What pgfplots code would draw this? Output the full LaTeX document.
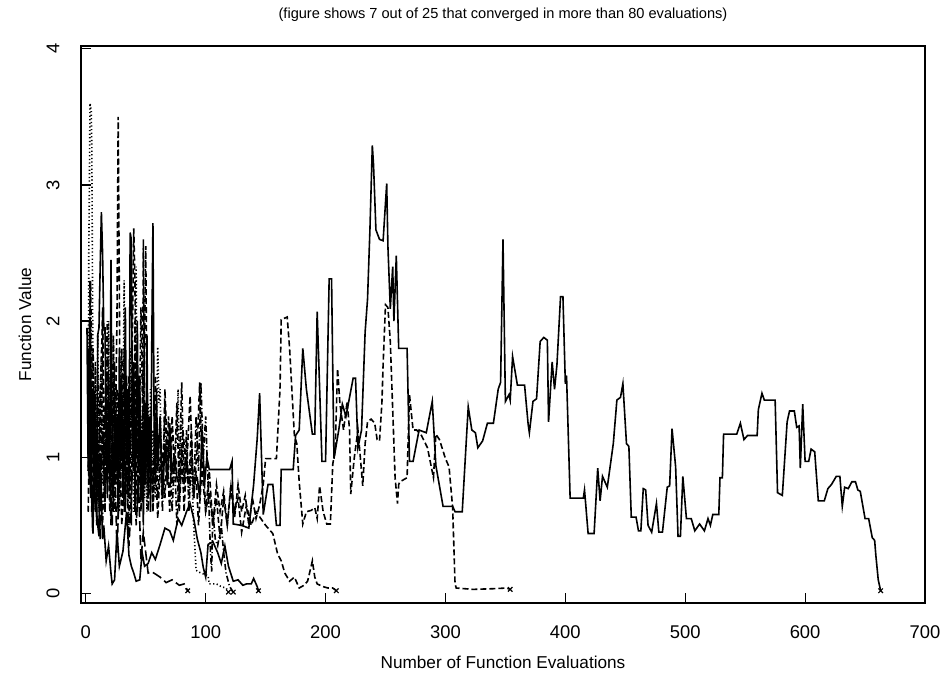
\documentclass[border=0pt]{standalone}
\usepackage{fontspec}
\setmainfont{Liberation Sans}
\usepackage{pgfplots}
\pgfplotsset{compat=1.18}
\begin{document}
\begin{tikzpicture}
\useasboundingbox (-40.5pt,-38pt) rectangle (433.5pt,301.5pt);
\begin{axis}[
  at={(0pt,0pt)}, anchor=south west,
  scale only axis, width=422pt, height=278.5pt,
  xmin=-4, xmax=700, ymin=-0.07, ymax=4.02,
  axis line style={line width=0.7pt},
  xtick={0,100,...,700}, ytick={0,1,2,3,4},
  xtick pos=bottom, ytick pos=left,
  tick align=inside, major tick length=5pt,
  tick style={line width=0.6pt, black},
  /pgf/number format/assume math mode=true,
  ticklabel style={font=\fontsize{9.2}{11}\selectfont},
  xticklabel style={anchor=center, yshift=-14.5pt},
  yticklabel={\rotatebox{90}{\pgfmathprintnumber{\tick}}},
  yticklabel style={anchor=center, xshift=-14pt},
  xlabel={Number of Function Evaluations},
  ylabel={Function Value},
  label style={font=\fontsize{8.6}{10}\selectfont},
  xlabel style={at={(axis description cs:0.5,-0.1059)}, anchor=center},
  ylabel style={at={(axis description cs:-0.0664,0.5)}, anchor=center},
  title={(figure shows 7 out of 25 that converged in more than 80 evaluations)},
  title style={at={(axis description cs:0.5,1.0341)}, anchor=center, font=\fontsize{7.3}{8.5}\selectfont},
  every axis plot/.append style={line width=0.8pt, black},
]
% Series A: solid, ends 663
\addplot[solid] coordinates {
(1,1.95)(2,0.9)(3,1.6)(4,2.0)(4.5,1.0)(5,0.95)(6,1.5)(7,0.8)(8,1.2)(9,0.6)(10,1.9)(11,1.95)(12,2.4)(13,2.8)(14,2.5)(15,1.95)(16,1.95)(17,1.2)(18,0.7)(19,1.4)(20,0.9)(21,2.45)(22,1.1)(23,0.6)(24,1.5)(25,0.9)(26,1.3)(27,0.55)(28,1.8)(29,1.0)(30,1.6)(31,0.7)(32,1.2)(33,2.1)(34,1.0)(35,1.5)(36,0.8)(37,2.65)(38,2.6)(39,1.1)(40,1.7)(41,0.6)(42,1.3)(43,2.0)(44,0.9)(45,1.6)(46,0.7)(47,1.2)(48,0.5)(49,1.4)(50,0.8)(51,1.9)(52,0.9)(53,1.3)(54,0.6)(55,1.8)(56,2.72)(57,1.2)(58,0.8)(59,1.5)(60,0.9)(62,1.3)(64,0.7)(66,1.1)(68,0.8)(70,1.25)(72,0.9)(74,1.0)(76,0.85)(93,0.85)(95,0.7)(97,1.2)(99,0.8)(101,1.0)(103,0.91)(120,0.91)(122,0.97)(123,0.51)(130,0.5)(136,0.48)(140,0.8)(143,1.14)(145,1.47)(148,0.58)(152,0.8)(156,0.8)(159,0.5)(162,0.5)(163,0.91)(173,0.91)(175,1.16)(178,1.2)(181,1.8)(184,1.5)(189,1.17)(191,1.17)(193,2.07)(197,0.97)(200,0.97)(203,2.31)(205,2.31)(207,0.99)(211,1.2)(214,1.39)(217,1.3)(223,1.58)(225,1.58)(227,1.07)(230,1.2)(233,1.92)(235,2.16)(237,2.67)(239,3.29)(240,3.15)(242,2.67)(245,2.6)(248,2.59)(251,3.01)(252,2.55)(254,2.09)(256,2.4)(257,2.0)(259,2.48)(261,1.80)(268,1.80)(270,0.97)(273,0.97)(278,1.2)(284,1.18)(289,1.41)(292,0.94)(298,0.64)(306,0.64)(308,0.6)(314,0.6)(319,1.37)(322,1.2)(325,1.18)(327,1.07)(331,1.12)(335,1.25)(340,1.25)(344,1.5)(346,1.55)(348,2.6)(350,1.41)(353,1.46)(354,1.42)(356,1.74)(360,1.53)(366,1.53)(369,1.24)(370,1.18)(373,1.41)(376,1.43)(379,1.85)(382,1.88)(385,1.86)(386,1.26)(389,1.7)(391,1.5)(393,1.68)(396,2.18)(398,2.18)(400,1.54)(401,1.6)(404,0.70)(415,0.70)(416,0.76)(419,0.44)(424,0.44)(427,0.92)(429,0.68)(431,0.86)(435,0.78)(440,1.1)(443,1.42)(446,1.44)(448,1.54)(451,1.1)(453,1.08)(455,0.56)(459,0.56)(461,0.46)(463,0.46)(465,0.77)(467,0.76)(469,0.5)(472,0.45)(476,0.66)(478,0.45)(481,0.45)(485,0.78)(487,0.79)(489,1.21)(492,0.93)(494,0.42)(496,0.42)(498,0.86)(501,0.55)(505,0.55)(508,0.46)(512,0.51)(516,0.46)(519,0.55)(521,0.5)(523,0.58)(528,0.58)(529,0.85)(531,0.85)(532,1.17)(543,1.17)(546,1.25)(549,1.13)(552,1.16)(560,1.16)(561,1.35)(564,1.47)(566,1.42)(575,1.42)(577,0.74)(581,0.72)(585,1.26)(587,1.34)(591,1.34)(593,1.22)(595,1.23)(596,0.92)(598,1.39)(600,0.97)(603,0.97)(605,1.06)(608,1.04)(611,0.68)(616,0.68)(619,0.77)(622,0.80)(626,0.86)(629,0.86)(631,0.64)(633,0.78)(636,0.77)(639,0.82)(642,0.82)(644,0.76)(646,0.75)(650,0.55)(653,0.55)(656,0.41)(658,0.39)(659,0.28)(661,0.1)(663,0.02)
};
% Series B: dashed, ends 354
\addplot[dash pattern=on 3pt off 1.5pt] coordinates {
(2,1.0)(2.5,1.8)(3,0.8)(3.5,2.3)(4,1.2)(5,0.6)(6,1.4)(7,0.9)(8,1.7)(9,0.5)(10,1.1)(11,0.7)(12,1.5)(13,0.9)(14,2.1)(15,1.0)(16,0.6)(17,1.3)(18,0.8)(19,1.6)(20,1.0)(21,0.5)(22,1.2)(23,1.9)(24,0.8)(25,1.4)(26,2.0)(27,3.5)(28,2.2)(29,0.7)(30,1.3)(31,0.9)(32,1.8)(33,0.6)(34,1.2)(35,0.8)(36,1.6)(37,1.0)(38,0.5)(39,1.4)(40,0.9)(41,2.0)(42,1.1)(43,0.6)(44,1.5)(45,0.8)(46,1.2)(47,0.7)(48,2.6)(49,1.3)(50,0.9)(51,1.5)(52,0.7)(54,1.2)(56,0.6)(58,1.6)(60,0.9)(62,1.3)(64,0.7)(66,1.5)(68,1.0)(70,0.6)(72,1.3)(74,0.9)(76,1.4)(78,0.7)(80,1.1)(82,0.6)(84,1.0)(86,0.8)(88,1.2)(90,0.7)(92,0.9)(94,0.5)(96,0.8)(98,1.0)(100,0.6)(103,0.9)(106,0.5)(109,0.7)(112,0.4)(115,0.7)(118,0.5)(121,0.78)(124,0.55)(127,0.8)(130,0.6)(133,0.72)(136,0.5)(139,0.7)(142,0.55)(145,0.65)(148,0.8)(150,0.99)(159,0.99)(162,1.5)(163,2.01)(168,2.03)(170,1.8)(174,1.16)(176,1.1)(178,0.82)(181,0.51)(184,0.6)(188,0.61)(191,0.63)(193,0.55)(195,0.79)(198,0.6)(201,0.51)(204,0.51)(206,0.95)(208,1.05)(210,1.65)(212,1.39)(215,1.2)(218,1.41)(220,1.2)(221,0.73)(224,1.0)(227,1.2)(229,1.0)(231,0.79)(233,1.1)(235,1.26)(238,1.28)(241,1.25)(243,1.13)(245,1.12)(247,1.4)(248,1.68)(250,2.12)(252,2.1)(254,1.85)(256,1.35)(258,0.85)(260,0.66)(261,0.8)(262,0.82)(268,0.85)(270,1.46)(273,1.2)(276,1.2)(280,1.16)(285,1.07)(290,0.85)(292,1.17)(295,1.13)(300,0.99)(303,0.93)(306,0.63)(307,0.35)(308,0.07)(309,0.04)(323,0.03)(340,0.035)(351,0.04)(354,0.03)
};
% Series C: dashed, ends 209
\addplot[dash pattern=on 3pt off 1.5pt] coordinates {
(2,0.6)(3,1.2)(4,0.8)(6,1.8)(8,1.1)(10,0.7)(12,1.5)(14,2.0)(16,0.9)(18,1.4)(20,0.6)(22,1.0)(24,1.7)(26,0.8)(28,1.2)(30,0.5)(32,0.9)(34,1.6)(36,0.7)(38,1.3)(40,2.68)(41,2.3)(42,1.0)(44,1.5)(46,0.6)(48,1.2)(50,2.55)(51,1.4)(52,0.8)(54,1.3)(56,0.6)(58,1.0)(60,0.55)(63,1.1)(66,0.7)(69,1.3)(72,0.8)(75,1.0)(78,0.6)(81,1.2)(84,0.9)(87,1.45)(90,0.7)(93,1.1)(95,1.55)(97,0.9)(100,0.6)(103,0.75)(106,0.5)(109,0.8)(112,0.6)(115,0.75)(118,0.5)(121,0.8)(124,0.6)(127,0.7)(130,0.45)(134,0.65)(138,0.5)(142,0.6)(146,0.55)(150,0.5)(152,0.48)(156,0.44)(160,0.29)(163,0.24)(166,0.15)(170,0.09)(174,0.12)(178,0.04)(182,0.06)(185,0.09)(188,0.2)(189,0.24)(191,0.12)(193,0.07)(198,0.05)(202,0.04)(206,0.04)(209,0.02)
};
% Series D: solid, ends 144
\addplot[solid] coordinates {
(3,2.0)(3.5,1.2)(4,0.7)(4.5,1.5)(5,0.9)(5.5,0.5)(6,0.44)(7,0.9)(8,1.3)(9,0.6)(10,0.5)(11,0.42)(12,1.0)(13,0.7)(14,0.4)(15,0.5)(17,0.24)(19,0.35)(21,0.15)(22,0.07)(24,0.1)(26,0.45)(28,0.2)(31,0.31)(34,0.6)(36,0.28)(38,0.2)(40,0.15)(42,0.09)(45,0.1)(47,0.3)(49,0.2)(52,0.22)(55,0.3)(58,0.25)(62,0.36)(66,0.48)(70,0.46)(73,0.39)(77,0.55)(80,0.5)(84,0.6)(87,0.66)(90,0.55)(93,0.4)(96,0.3)(98,0.19)(100,0.12)(102,0.36)(106,0.38)(110,0.3)(113,0.22)(116,0.35)(119,0.2)(123,0.09)(127,0.1)(131,0.06)(134,0.07)(138,0.07)(140,0.11)(141,0.09)(143,0.05)(144,0.02)
};
% Series E: dotted, ends 119
\addplot[dash pattern=on 0.6pt off 1.2pt] coordinates {
(2,1.2)(2.5,2.5)(3,3.0)(3.5,3.6)(4.5,3.55)(5,3.3)(6,1.6)(7,0.7)(8,1.5)(9,1.0)(10,1.9)(11,0.6)(12,1.2)(13,1.7)(14,0.8)(15,1.3)(16,0.6)(17,1.6)(18,1.0)(19,2.0)(20,0.9)(21,1.4)(22,0.7)(23,1.9)(24,1.1)(25,1.5)(26,0.8)(27,1.2)(28,0.6)(29,1.7)(30,0.9)(31,1.3)(32,2.3)(33,1.0)(34,1.5)(35,0.7)(36,1.1)(37,1.8)(38,0.8)(39,1.4)(40,0.6)(41,1.2)(42,2.4)(43,1.0)(44,1.6)(45,0.8)(46,1.3)(47,0.9)(48,1.7)(49,0.7)(50,1.1)(51,0.6)(52,1.4)(53,0.9)(54,1.5)(55,0.8)(56,1.2)(58,0.7)(60,1.81)(61,1.4)(62,1.5)(63,0.93)(74,0.93)(76,1.2)(77,1.5)(78,0.9)(80,1.3)(82,0.8)(84,1.1)(86,0.7)(88,1.0)(90,0.5)(92,0.17)(96,0.15)(102,0.13)(103,0.07)(109,0.07)(113,0.05)(117,0.04)(119,0.01)
};
% Series F: dot-dash, ends 123
\addplot[dash pattern=on 0.6pt off 1.2pt on 3pt off 1.2pt] coordinates {
(2,0.9)(3,1.4)(4,2.3)(6,1.1)(8,0.6)(10,1.6)(12,0.9)(14,0.5)(16,1.3)(18,2.0)(20,0.8)(22,1.2)(24,0.6)(26,1.5)(28,0.9)(30,1.8)(32,0.7)(34,1.1)(36,0.5)(38,1.6)(40,0.9)(42,1.3)(44,0.7)(46,2.1)(48,1.0)(50,1.4)(52,0.6)(54,1.0)(56,0.8)(58,1.3)(60,0.7)(62,1.0)(64,0.6)(66,1.4)(68,0.8)(70,1.1)(72,0.6)(74,1.0)(76,0.5)(78,0.9)(80,1.55)(82,0.8)(84,1.2)(86,0.6)(88,1.0)(90,0.7)(92,1.3)(94,0.9)(96,1.55)(98,1.0)(100,1.3)(102,0.8)(103,0.57)(104,0.3)(105,0.16)(106,0.6)(108,0.4)(110,0.35)(113,0.5)(115,0.3)(117,0.15)(120,0.05)(123,0.01)
};
% Series G: long dash, ends 85
\addplot[dash pattern=on 5pt off 2pt] coordinates {
(2,1.5)(3,0.8)(4,1.7)(6,1.1)(8,0.6)(10,1.0)(12,0.4)(14,1.2)(16,0.7)(18,1.8)(20,0.9)(22,0.5)(24,1.1)(26,0.3)(28,0.8)(30,1.4)(32,0.6)(34,0.9)(36,0.35)(38,0.7)(40,1.25)(42,0.5)(44,0.8)(46,0.25)(48,0.45)(50,0.3)(52,0.15)(55,0.16)(62,0.12)(67,0.08)(72,0.1)(78,0.06)(82,0.07)(85,0.02)
};
% end markers
\addplot[only marks, mark=x, mark size=1.6pt, line width=0.6pt] coordinates {
(663,0.02)(354,0.03)(209,0.02)(144,0.02)(119,0.01)(123,0.01)(85,0.02)
};
\end{axis}
\end{tikzpicture}
\end{document}
